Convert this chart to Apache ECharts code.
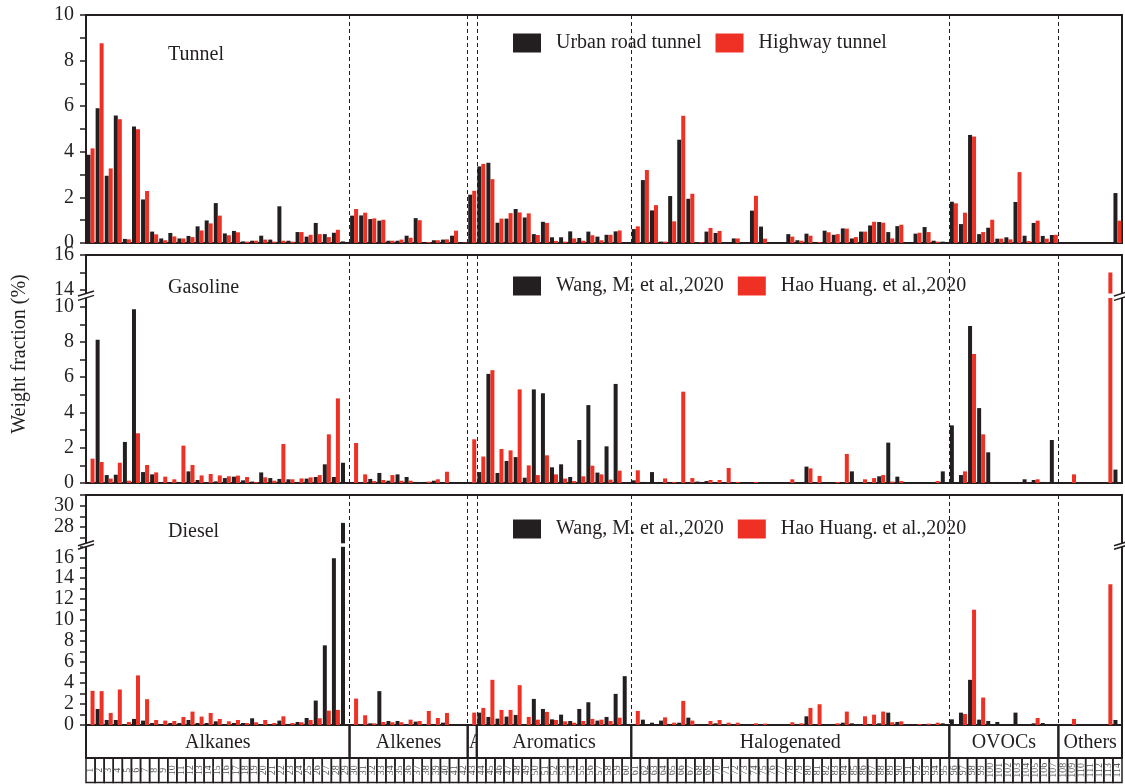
<!DOCTYPE html>
<html><head><meta charset="utf-8">
<script src="https://cdn.jsdelivr.net/npm/echarts@6.0.0/dist/echarts.min.js"></script>
<style>html,body{margin:0;padding:0;background:#fff}#c{width:1125px;height:784px}</style>
</head><body><div id="c"></div>
<script>
// ---------- DATA ----------
const speciesNo = ['1','2','3','4','5','6','7','8','9','10','11','12','13','14','15','16','17','18','19','20',
'21','22','23','24','25','26','27','28','29','30','31','32','33','34','35','36','37','38','39','40',
'41','42','43','44','45','46','47','48','49','50','51','52','53','54','55','56','57','58','59','60',
'61','62','63','64','65','66','67','68','69','70','71','72','73','74','75','76','77','78','79','80',
'81','82','83','84','85','86','87','88','89','90','91','92','93','94','95','96','97','98','99','100',
'101','102','103','104','105','106','107','108','109','110','111','112','113','114'];

const groupNames = ['Alkanes','Alkenes','Alkyne','Aromatics','Halogenated','OVOCs','Others'];
const groupStart = [0, 29, 42, 43, 60, 95, 107];
const groupEnd   = [29, 42, 43, 60, 95, 107, 114];

const tunnelUrban = [3.87,5.91,2.95,5.59,0.18,5.11,1.91,0.50,0.20,0.44,0.20,0.31,0.73,0.99,1.75,0.42,0.53,0.07,0.10,0.32,0.15,1.61,0.10,0.48,0.28,0.88,0.39,0.45,0.07,
1.20,1.21,1.05,0.98,0.10,0.10,0.32,1.09,0.04,0.12,0.15,0.32,0.04,
2.12,
3.36,3.52,0.89,1.07,1.49,1.12,0.39,0.93,0.25,0.25,0.51,0.22,0.50,0.28,0.36,0.51,0,
0.61,2.76,1.43,0.06,2.06,4.53,1.94,0,0.50,0.44,0,0.20,0,1.42,0.72,0,0,0.39,0.12,0.41,0.04,0.54,0.36,0.64,0.20,0.50,0.77,0.92,0.48,0.74,0,0.41,0.70,0.10,0.06,
1.81,0.83,4.74,0.39,0.67,0.19,0.25,1.80,0.32,0.88,0.31,0.35,
0,0,0,0,0,0,2.19];
const tunnelHighway = [4.15,8.76,3.27,5.43,0.16,4.99,2.28,0.38,0.12,0.29,0.20,0.26,0.55,0.86,1.20,0.34,0.47,0.06,0.10,0.15,0.06,0.10,0.06,0.48,0.36,0.39,0.26,0.58,0,
1.49,1.33,1.08,1.02,0.10,0.15,0.23,1.00,0.04,0.12,0.16,0.54,0.02,
2.29,
3.47,2.80,1.07,1.31,1.34,1.30,0.35,0.88,0.09,0.06,0.20,0.10,0.34,0.12,0.36,0.55,0,
0.73,3.20,1.66,0.06,0.95,5.58,2.16,0.04,0.66,0.53,0,0.20,0,2.07,0.19,0,0,0.28,0.10,0.32,0.04,0.47,0.39,0.63,0.26,0.50,0.93,0.89,0.20,0.80,0,0.45,0.48,0.06,0,
1.74,1.33,4.67,0.48,1.02,0.19,0.16,3.11,0.09,0.98,0.19,0.36,
0,0,0,0,0,0,0.98];
const gasolineWang = [0,8.13,0.45,0.47,2.33,9.85,0.62,0.49,0,0.04,0.04,0.66,0.17,0,0.09,0.28,0.36,0.15,0.08,0.60,0.28,0.23,0.21,0.06,0.25,0.34,1.06,0.34,1.15,
0,0,0.23,0.57,0.13,0.49,0.34,0.06,0.06,0.13,0,0,0,
0,
0.62,6.19,0.57,1.25,1.47,0.30,5.31,5.09,0.89,1.06,0.34,2.44,4.42,0.59,2.08,5.62,0,
0.15,0.06,0.62,0.04,0,0.04,0,0.08,0.11,0,0,0.02,0,0.04,0,0,0.04,0,0,0.93,0,0,0,0.02,0.66,0,0,0.38,2.29,0.36,0,0,0,0,0.66,
3.27,0.45,8.91,4.25,1.74,0.06,0,0,0.21,0.17,0.06,2.44,
0,0,0,0,0,0,0.76];
const gasolineHuang = [1.38,1.19,0.25,1.15,0.13,2.82,1.02,0.60,0.36,0.21,2.12,1.02,0.43,0.51,0.43,0.38,0.42,0.34,0.06,0.32,0.13,2.21,0.21,0.26,0.32,0.45,2.76,4.80,0,
2.27,0.49,0.11,0.17,0.45,0.13,0.13,0,0.08,0.21,0.64,0,0,
2.48,
1.50,6.40,1.93,1.85,5.31,1.00,0.45,1.57,0.49,0.25,0.11,0.38,0.98,0.49,0.19,0.70,0,
0.72,0,0,0.26,0.06,5.18,0.28,0,0.17,0.17,0.85,0.06,0,0.06,0,0,0,0.21,0,0.83,0.40,0,0.06,1.65,0,0.21,0.28,0.45,0.08,0.11,0,0,0,0.11,0,
0,0.66,7.32,2.76,0,0,0,0,0,0.21,0,0,
0,0.49,0,0,0,15.0,0];
const dieselWang = [0,1.53,0.48,0.48,0,0.58,0.42,0.19,0,0.19,0.19,0.48,0.19,0.19,0.35,0,0.19,0.19,0.64,0.05,0,0.42,0,0.29,0.67,2.33,7.60,15.9,28.4,
0,0,0.16,3.23,0.38,0.38,0,0.32,0,0.03,0.22,0,0,
0,
1.18,0.77,0.61,0.80,0.96,0,2.49,1.53,0.54,0.99,0.38,1.53,2.17,0.42,0.77,2.97,4.66,
0,0.51,0.22,0.42,0.03,0.22,0.70,0,0,0.16,0,0,0,0,0,0,0,0,0,0.83,0,0,0,0.22,0.16,0,0,0.16,1.18,0.29,0,0,0,0,0.16,
0.54,1.18,4.31,0.51,0.38,0.29,0,1.18,0,0.16,0.19,0,
0,0,0,0,0,0,0.48];
const dieselHuang = [3.26,3.23,1.15,3.39,0.29,4.73,2.46,0.48,0.42,0.38,0.77,1.28,0.80,1.15,0.58,0.35,0.48,0.19,0.26,0.48,0.19,0.83,0.19,0.26,0.48,0.64,1.37,1.44,0,
2.52,0.93,0.16,0.29,0.26,0.26,0.51,0.38,1.34,0.67,1.15,0,0,
1.18,
1.63,4.31,1.44,1.44,3.80,0.77,0.51,1.25,0.48,0.35,0.22,0.38,0.58,0.51,0.38,0.70,0,
1.34,0,0,0.73,0.22,2.30,0.42,0,0.38,0.48,0.22,0.22,0,0.16,0.13,0,0,0.26,0.16,1.63,1.98,0,0.16,1.28,0,0.83,0.99,1.28,0.26,0.35,0,0.10,0.13,0.22,0,
0,1.05,11.0,2.62,0,0,0,0,0,0.67,0,0,
0,0.58,0,0,0,13.42,0];

const tunnelTicks = [0,1,2,3,4,5,6,7,8,9,10];
const tunnelLabels = [0,2,4,6,8,10];
const gasUpperTicks = [14,15,16];
const gasUpperLabels = [14,16];
const gasLowerTicks = [0,1,2,3,4,5,6,7,8,9,10];
const gasLowerLabels = [0,2,4,6,8,10];
const dieUpperTicks = [27,28,29,30,31];
const dieUpperLabels = [28,30];
const dieLowerTicks = [0,1,2,3,4,5,6,7,8,9,10,11,12,13,14,15,16,17];
const dieLowerLabels = [0,2,4,6,8,10,12,14,16];

const S1 = 'Urban road tunnel', S2 = 'Highway tunnel';
const W = 'Wang, M. et al.,2020', H = 'Hao Huang. et al.,2020';

// ---------- STYLE / LAYOUT ----------
const FONT = '"Liberation Serif","Times New Roman",serif';
const INK = '#231f20', RED = '#ee3124';
const L = 86, R = 3;
const gasGap = [293.5, 297.9];
const dieGap = [543.3, 546.8];

const chart = echarts.init(document.getElementById('c'), null, {renderer: 'canvas'});

function catAxis(gi, dashed) {
  return {type: 'category', gridIndex: gi, data: speciesNo, boundaryGap: true,
    axisLine: {show: false}, axisTick: {show: false}, axisLabel: {show: false},
    splitLine: dashed ? {show: true, interval: (i) => groupStart.indexOf(i) > 0,
      lineStyle: {type: [4, 3], color: INK, width: 1}} : {show: false}};
}
function valAxis(gi, min, max, ticks, labels) {
  return {type: 'value', gridIndex: gi, min, max,
    axisLine: {show: false}, splitLine: {show: false},
    axisTick: {show: true, inside: false, length: 6, lineStyle: {color: INK, width: 1.5}, customValues: ticks},
    axisLabel: {show: true, customValues: labels, margin: 12, color: INK, fontFamily: FONT, fontSize: 20}};
}
function hidden(gi, max) { return {type: 'value', gridIndex: gi, min: 0, max: max, show: false}; }
function bars(name, data, ai, color) {
  return {type: 'bar', name, data, xAxisIndex: ai, yAxisIndex: ai, barWidth: 4, barGap: '0%',
    itemStyle: {color}, clip: true, silent: true};
}
const legendCommon = {orient: 'horizontal', padding: 0, itemWidth: 28, itemHeight: 19, itemGap: 14,
  icon: 'rect', selectedMode: false,
  textStyle: {fontFamily: FONT, fontSize: 20, color: INK, padding: [0, 0, 0, 10]}};

function breakMarks(gap) {
  const out = [];
  [L, 1125 - R].forEach(x => {
    out.push({type: 'rect', z: 100, shape: {x: x - 3, y: gap[0], width: 6, height: gap[1] - gap[0]}, style: {fill: '#fff'}});
    out.push({type: 'line', z: 101, shape: {x1: x - 8, y1: gap[0] + 2.5, x2: x + 8, y2: gap[0] - 2.5}, style: {stroke: INK, lineWidth: 1.5}});
    out.push({type: 'line', z: 101, shape: {x1: x - 8, y1: gap[1] + 2.5, x2: x + 8, y2: gap[1] - 2.5}, style: {stroke: INK, lineWidth: 1.5}});
  });
  return out;
}

const option = {
  animation: false,
  backgroundColor: '#fff',
  grid: [
    {left: L, right: R, top: 15, height: 228, show: true, borderColor: INK, borderWidth: 2},
    {left: L, right: R, top: 255, height: 228, show: true, borderColor: INK, borderWidth: 2},
    {left: L, right: R, top: 255, height: gasGap[0] - 255},
    {left: L, right: R, top: gasGap[1], height: 483 - gasGap[1]},
    {left: L, right: R, top: 495, height: 230, show: true, borderColor: INK, borderWidth: 2},
    {left: L, right: R, top: 495, height: dieGap[0] - 495},
    {left: L, right: R, top: dieGap[1], height: 725 - dieGap[1]},
    {left: L, right: R, top: 725, height: 33},
    {left: L, right: R, top: 758, height: 24.5}
  ],
  xAxis: [
    catAxis(0, true), catAxis(1, true), catAxis(2, false), catAxis(3, false),
    catAxis(4, true), catAxis(5, false), catAxis(6, false),
    hidden(7, speciesNo.length), hidden(8, speciesNo.length)
  ],
  yAxis: [
    valAxis(0, 0, 10, tunnelTicks, tunnelLabels),
    hidden(1, 1),
    valAxis(2, 13.8, 16, gasUpperTicks, gasUpperLabels),
    valAxis(3, 0, 10.5, gasLowerTicks, gasLowerLabels),
    hidden(4, 1),
    valAxis(5, 26.5, 31, dieUpperTicks, dieUpperLabels),
    valAxis(6, 0, 17, dieLowerTicks, dieLowerLabels),
    hidden(7, 1), hidden(8, 1)
  ],
  legend: [
    Object.assign({data: [S1, S2], left: 513, top: 33}, legendCommon),
    Object.assign({data: [W, H], left: 513, top: 276}, legendCommon),
    Object.assign({data: [W, H], left: 513, top: 519}, legendCommon)
  ],
  series: [
    bars(S1, tunnelUrban, 0, INK), bars(S2, tunnelHighway, 0, RED),
    bars(W, gasolineWang, 2, INK), bars(H, gasolineHuang, 2, RED),
    bars(W, gasolineWang, 3, INK), bars(H, gasolineHuang, 3, RED),
    bars(W, dieselWang, 5, INK), bars(H, dieselHuang, 5, RED),
    bars(W, dieselWang, 6, INK), bars(H, dieselHuang, 6, RED),
    {
      type: 'custom', xAxisIndex: 7, yAxisIndex: 7, silent: true,
      data: groupStart.map((s, i) => [s, groupEnd[i]]),
      renderItem: (params, api) => {
        const a = api.coord([api.value(0), 1]), b = api.coord([api.value(1), 0]);
        const w = b[0] - a[0], h = b[1] - a[1];
        const narrow = w < 40;
        return {type: 'group', children: [
          {type: 'rect', shape: {x: a[0], y: a[1], width: w, height: h}, style: {fill: 'none', stroke: INK, lineWidth: 2}},
          {type: 'group', clipPath: {type: 'rect', shape: {x: a[0] + 1, y: a[1], width: w - 2, height: h}},
            children: [
              {type: 'text', x: narrow ? a[0] + 1 : a[0] + w / 2, y: a[1] + h / 2 + 1,
                style: {text: groupNames[params.dataIndex], font: '20px ' + FONT, fill: INK,
                  align: narrow ? 'left' : 'center', verticalAlign: 'middle'}}
            ]}
        ]};
      }
    },
    {
      type: 'custom', xAxisIndex: 8, yAxisIndex: 8, silent: true,
      data: speciesNo.map((s, i) => [i, 0]),
      renderItem: (params, api) => {
        const i = api.value(0);
        const a = api.coord([i, 1]), b = api.coord([i + 1, 0]);
        const w = b[0] - a[0], h = b[1] - a[1];
        return {type: 'group', children: [
          {type: 'rect', shape: {x: a[0], y: a[1], width: w, height: h}, style: {fill: 'none', stroke: INK, lineWidth: 1.5}},
          {type: 'text', x: a[0] + w / 2, y: a[1] + h / 2, rotation: Math.PI / 2,
            style: {text: speciesNo[params.dataIndex], font: '10px ' + FONT, fill: '#555', align: 'center', verticalAlign: 'middle'}}
        ]};
      }
    }
  ],
  graphic: [
    {type: 'text', x: 168, y: 55, style: {text: 'Tunnel', font: '20px ' + FONT, fill: INK, verticalAlign: 'middle'}},
    {type: 'text', x: 168, y: 288, style: {text: 'Gasoline', font: '20px ' + FONT, fill: INK, verticalAlign: 'middle'}},
    {type: 'text', x: 168, y: 532, style: {text: 'Diesel', font: '20px ' + FONT, fill: INK, verticalAlign: 'middle'}},
    {type: 'text', x: 20, y: 354, rotation: Math.PI / 2,
      style: {text: 'Weight fraction (%)', font: '20px ' + FONT, fill: INK, align: 'center', verticalAlign: 'middle'}}
  ].concat(breakMarks(gasGap), breakMarks(dieGap))
};
chart.setOption(option);
</script></body></html>
